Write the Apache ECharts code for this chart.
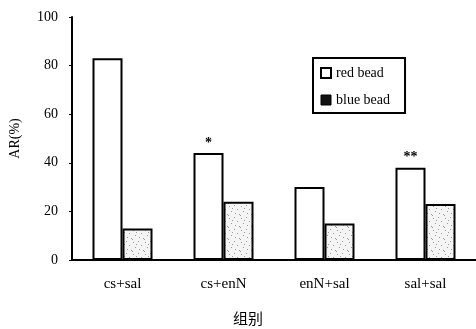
<!DOCTYPE html>
<html><head><meta charset="utf-8">
<script src="https://cdn.jsdelivr.net/npm/echarts@6/dist/echarts.min.js"></script>
<style>html,body{margin:0;padding:0;background:#fff}#c{width:476px;height:329px}</style>
</head><body><div id="c"></div>
<script>
const categories = ['cs+sal', 'cs+enN', 'enN+sal', 'sal+sal'];
const redBead = [83, 44, 30, 38];
const blueBead = [13, 24, 15, 23];
const redMarks = ['', '*', '', '**'];
const yTicks = [0, 20, 40, 60, 80, 100];
const seriesNames = ['red bead', 'blue bead'];

const serif = 'Liberation Serif';

// stipple texture for the grey bars
const pat = document.createElement('canvas');
pat.width = 12; pat.height = 12;
const pctx = pat.getContext('2d');
pctx.fillStyle = '#f4f4f4'; pctx.fillRect(0, 0, 12, 12);
pctx.fillStyle = '#9a9a9a';
[[1,2],[6,1],[9,5],[3,7],[7,9],[11,10],[4,4],[0,11]].forEach(([x, y]) => pctx.fillRect(x, y, 1, 1));

const chart = echarts.init(document.getElementById('c'));
chart.setOption({
  animation: false,
  grid: { left: 71, right: 0, top: 17, bottom: 69 },
  legend: {
    orient: 'vertical', left: 313, top: 58,
    borderColor: '#000', borderWidth: 2, padding: [8, 15, 6, 7],
    icon: 'rect', itemWidth: 10, itemHeight: 10, itemGap: 13,
    textStyle: { fontFamily: serif, fontSize: 14, color: '#000' },
    data: [
      { name: seriesNames[0], itemStyle: { color: '#fff', borderColor: '#000', borderWidth: 2 } },
      { name: seriesNames[1], itemStyle: { color: '#111', borderColor: '#000', borderWidth: 1 } }
    ]
  },
  xAxis: {
    type: 'category', data: categories,
    axisLine: { lineStyle: { color: '#000', width: 2 } },
    axisTick: { show: false },
    axisLabel: { margin: 17, fontFamily: serif, fontSize: 15, color: '#000' }
  },
  yAxis: {
    type: 'value', min: yTicks[0], max: yTicks[yTicks.length - 1], interval: 20,
    name: 'AR(%)', nameLocation: 'middle', nameGap: 50, nameRotate: 90,
    nameTextStyle: { fontFamily: serif, fontSize: 14, color: '#000' },
    axisLine: { show: true, lineStyle: { color: '#000', width: 2 } },
    axisTick: { show: true, length: 3, lineStyle: { color: '#000', width: 1 } },
    axisLabel: { margin: 14, fontFamily: serif, fontSize: 14, color: '#000' },
    splitLine: { show: false }
  },
  graphic: [{
    type: 'text', left: 233, top: 311,
    style: { text: '组别', font: '15px "Noto Sans CJK SC"', fill: '#000' }
  }],
  series: [
    {
      name: seriesNames[0], type: 'bar', barWidth: 30, barGap: '0%',
      itemStyle: { color: '#fff', borderColor: '#000', borderWidth: 2 },
      label: { show: true, position: 'top', distance: 3, fontFamily: serif, fontSize: 14, fontWeight: 'bold', color: '#000',
        formatter: p => redMarks[p.dataIndex] },
      data: redBead
    },
    {
      name: seriesNames[1], type: 'bar', barWidth: 30,
      itemStyle: { color: { image: pat, repeat: 'repeat' }, borderColor: '#000', borderWidth: 2 },
      data: blueBead
    }
  ]
});
</script></body></html>
